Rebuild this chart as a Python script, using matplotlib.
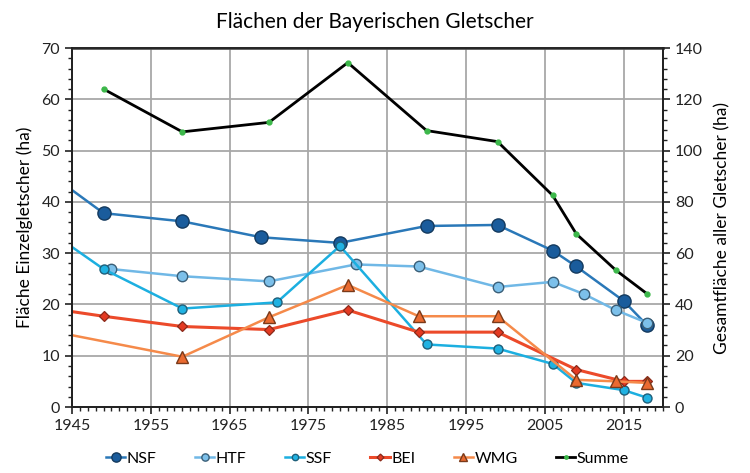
import matplotlib.pyplot as plt
from matplotlib.ticker import MultipleLocator

plt.rcParams['font.family'] = ['Lato', 'DejaVu Sans']

# Flaechen je Gletscher in ha (erster Punkt 1945 ohne Marker = Linie vom Rand)
nsf_years = [1945, 1949, 1959, 1969, 1979, 1990, 1999, 2006, 2009, 2015, 2018]
nsf_area = [42.3, 37.8, 36.2, 33.1, 32.0, 35.3, 35.5, 30.5, 27.4, 20.7, 15.9]

htf_years = [1950, 1959, 1970, 1981, 1989, 1999, 2006, 2010, 2014, 2018]
htf_area = [26.9, 25.5, 24.5, 27.8, 27.4, 23.4, 24.4, 22.0, 18.9, 16.4]

ssf_years = [1945, 1949, 1959, 1971, 1979, 1990, 1999, 2006, 2009, 2015, 2018]
ssf_area = [31.2, 26.9, 19.2, 20.4, 31.4, 12.2, 11.4, 8.4, 4.7, 3.3, 1.8]

bei_years = [1945, 1949, 1959, 1970, 1980, 1989, 1999, 2009, 2015, 2018]
bei_area = [18.6, 17.7, 15.7, 15.1, 18.9, 14.6, 14.6, 7.3, 5.0, 5.0]

wmg_years = [1945, 1959, 1970, 1980, 1989, 1999, 2009, 2014, 2018]
wmg_area = [14.0, 9.8, 17.5, 23.8, 17.7, 17.7, 5.3, 5.0, 4.7]

summe_years = [1949, 1959, 1970, 1980, 1990, 1999, 2006, 2009, 2014, 2018]
summe_area = [124.0, 107.3, 111.0, 134.3, 107.8, 103.5, 82.5, 67.5, 53.4, 44.1]

fig = plt.figure(figsize=(7.5, 4.73), dpi=100)
ax = fig.add_axes([0.096, 0.1395, 0.788, 0.759])
ax2 = ax.twinx()

ax.plot(nsf_years, nsf_area, color='#2a78b8', lw=1.8, marker='o', ms=9.5,
        mfc='#1a5c9c', mec='#143a5e', mew=1.0, markevery=slice(1, None), label='NSF')
ax.plot(htf_years, htf_area, color='#70b8e6', lw=1.8, marker='o', ms=7.5,
        mfc='#7cc0ea', mec='#3a5f78', mew=1.0, label='HTF')
ax.plot(ssf_years, ssf_area, color='#1cafe0', lw=1.8, marker='o', ms=6.5,
        mfc='#20b2e2', mec='#1e5f7a', mew=1.0, markevery=slice(1, None), label='SSF')
ax.plot(bei_years, bei_area, color='#ec4a2a', lw=2.2, marker='D', ms=5,
        mfc='#e43a22', mec='#8a2a1a', mew=0.9, markevery=slice(1, None), label='BEI')
ax.plot(wmg_years, wmg_area, color='#f58a4a', lw=1.8, marker='^', ms=8.5,
        mfc='#ea6a30', mec='#7a3a1a', mew=1.0, markevery=slice(1, None), label='WMG')
ax2.plot(summe_years, summe_area, color='black', lw=2.0, marker='o', ms=3.5,
         mfc='#3cb84a', mec='#3cb84a', label='Summe')

ax.set_xlim(1945, 2020)
ax.set_ylim(0, 70)
ax2.set_ylim(0, 140)

ax.set_xticks(range(1945, 2020, 10))
ax.xaxis.set_minor_locator(MultipleLocator(1))
ax.yaxis.set_major_locator(MultipleLocator(10))
ax.yaxis.set_minor_locator(MultipleLocator(2))
ax2.yaxis.set_major_locator(MultipleLocator(20))
ax2.yaxis.set_minor_locator(MultipleLocator(4))

ax.grid(True, which='major', color='#a8a8a8', lw=1.3)
ax.set_axisbelow(True)

for a in (ax, ax2):
    a.tick_params(which='major', direction='out', length=5, width=1.2, labelsize=11.5, colors='#222222')
    a.tick_params(which='minor', direction='out', length=3, width=1.0, colors='#222222')
    for s in a.spines.values():
        s.set_linewidth(1.3)
        s.set_color('#222222')
ax.spines['top'].set_color('#555555')
ax.spines['top'].set_linewidth(2.0)

ax.set_ylabel('Fläche Einzelgletscher (ha)', fontsize=12.5, labelpad=6)
ax2.set_ylabel('Gesamtfläche aller Gletscher (ha)', fontsize=12.5, labelpad=8)
fig.suptitle('Flächen der Bayerischen Gletscher', fontsize=15, y=0.975)

h1, l1 = ax.get_legend_handles_labels()
h2, l2 = ax2.get_legend_handles_labels()
fig.legend(h1 + h2, l1 + l2, loc='lower center', ncol=6, frameon=False,
           bbox_to_anchor=(0.49, -0.015), fontsize=11.5, handlelength=1.2,
           handletextpad=0.1, columnspacing=2.4, markerscale=0.7)

fig.savefig('out.png', dpi=100)
